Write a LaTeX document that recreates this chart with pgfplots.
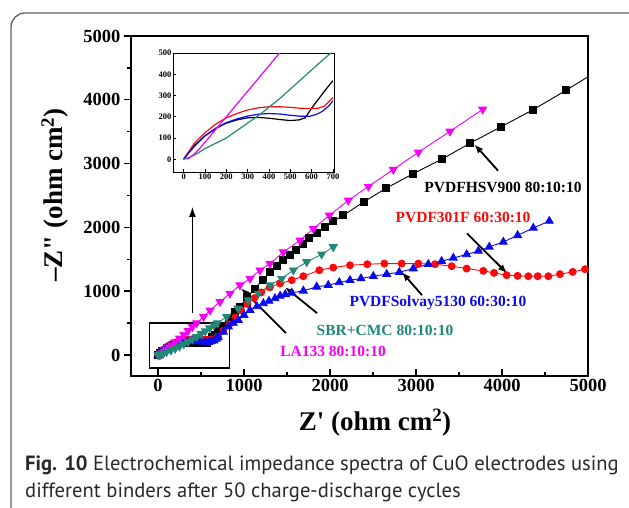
\documentclass[border=0pt]{standalone}
\usepackage{pgfplots}
\pgfplotsset{compat=1.18}
\usepackage{fontspec}
\setmainfont{Liberation Serif}
\newfontfamily\capfont{PT Sans}
\usetikzlibrary{arrows.meta}
\definecolor{tealc}{RGB}{35,135,120}
\definecolor{magc}{RGB}{245,0,245}
\definecolor{redc}{RGB}{250,10,10}
\definecolor{bluec}{RGB}{10,10,235}
\definecolor{capgray}{RGB}{40,40,40}
\definecolor{framegray}{RGB}{95,95,95}
\begin{document}
\begin{tikzpicture}
\useasboundingbox (0,0) rectangle (629pt,508pt);
\draw[framegray, line width=1.3pt, rounded corners=14pt] (11pt,-40pt) rectangle (660pt,495pt);
\begin{axis}[at={(131pt,132pt)}, anchor=south west, scale only axis,
  width=457pt, height=340pt,
  xmin=-314, xmax=5000, ymin=-330, ymax=5000,
  xtick={0,1000,...,5000}, ytick={0,1000,...,5000},
  minor xtick={500,1500,...,4500}, minor ytick={500,1500,...,4500},
  xtick pos=bottom, ytick pos=left,
  xtick align=inside, ytick align=outside,
  major tick length=7pt, minor tick length=4pt,
  axis line style={line width=1.6pt},
  every tick/.style={line width=1.4pt, black},
  scaled ticks=false,
  /pgf/number format/1000 sep={},
  /pgf/number format/assume math mode=true,
  ticklabel style={font=\bfseries\fontsize{18.5}{18.5}\selectfont},
  clip=false]
% black PVDFHSV900
\addplot[black, line width=0.9pt, mark=square*, mark size=3.5pt, mark options={solid}] coordinates {
(0,0) (20,30) (50,65) (100,110) (150,145) (200,170) (250,185) (300,195) (350,197) (400,193) (450,187) (500,182) (540,185) (570,195) (600,240) (630,280) (660,320) (700,370) (760,460) (830,560) (900,670) (953,755) (1039,911) (1128,1042) (1220,1180) (1300,1300) (1380,1400) (1455,1484) (1530,1570) (1609,1651) (1680,1740) (1760,1830) (1845,1920) (1936,2005) (2040,2095) (2155,2188) (2389,2396) (2655,2615) (2964,2839) (3300,3068) (3627,3318) (3991,3578) (4355,3839) (4748,4151)};
\addplot[black, line width=0.9pt] coordinates {(4748,4151) (5000,4360)};
% red PVDF301F
\addplot[redc, line width=0.9pt, mark=*, mark size=3.5pt] coordinates {
(0,0) (20,30) (50,75) (100,125) (150,165) (200,195) (250,215) (300,232) (350,242) (400,247) (450,247) (500,244) (550,240) (600,238) (630,240) (660,250) (700,290) (760,380) (830,480) (900,590) (965,700) (1040,800) (1120,890) (1200,980) (1300,1060) (1419,1120) (1555,1172) (1690,1234) (1876,1328) (2038,1370) (2233,1406) (2434,1422) (2632,1432) (2833,1432) (3027,1432) (3221,1422) (3415,1391) (3589,1354) (3783,1318) (3907,1286) (4054,1250) (4182,1240) (4306,1234) (4415,1234) (4539,1234) (4674,1266) (4822,1302) (4965,1344)};
% blue PVDFSolvay5130
\addplot[bluec, line width=0.9pt, mark=triangle*, mark size=4.5pt] coordinates {
(0,0) (20,25) (50,60) (100,110) (150,145) (200,172) (250,190) (300,203) (350,212) (400,215) (450,213) (500,207) (550,202) (590,202) (620,210) (650,225) (680,250) (700,275) (760,360) (818,443) (876,500) (934,547) (1000,625) (1070,703) (1150,760) (1225,807) (1290,845) (1360,885) (1420,925) (1480,950) (1555,974) (1690,1005) (1845,1068) (1980,1094) (2108,1136) (2233,1172) (2360,1198) (2504,1234) (2659,1266) (2806,1297) (2969,1354) (3143,1422) (3298,1470) (3434,1520) (3589,1575) (3725,1630) (3852,1693) (4015,1771) (4182,1875) (4364,1990) (4550,2099)};
% magenta LA133
\addplot[magc, line width=0.9pt, mark=triangle*, mark size=4.5pt, mark options={rotate=180}] coordinates {
(15,0) (30,8) (50,25) (75,50) (100,80) (130,115) (160,150) (200,200) (250,260) (300,320) (350,380) (400,440) (450,500) (530,600) (605,700) (721,833) (837,964) (953,1094) (1070,1198) (1186,1328) (1302,1432) (1457,1614) (1651,1797) (1806,1979) (1992,2188) (2213,2422) (2446,2641) (2736,2906) (3027,3177) (3395,3505) (3775,3850)};
% teal SBR+CMC
\addplot[tealc, line width=0.9pt, mark=triangle*, mark size=4.5pt, mark options={rotate=180}] coordinates {
(0,0) (30,10) (60,25) (100,50) (150,75) (200,100) (250,135) (300,170) (350,205) (400,245) (450,285) (500,330) (550,375) (600,420) (650,465) (690,500) (798,599) (930,730) (1050,859) (1167,964) (1302,1094) (1438,1198) (1574,1328) (1729,1458) (1903,1578) (2038,1693)};
% zoom rectangle and arrow
\draw[line width=1.6pt] (axis cs:-100,-200) rectangle (axis cs:830,500);
\draw[line width=1.3pt, -{Latex[length=10pt,width=7pt]}] (axis cs:400,650) -- (axis cs:400,2320);
% annotations
\tikzset{lab/.style={font=\bfseries\fontsize{15.5}{15.5}\selectfont}, arr/.style={black, line width=1.8pt, -{Latex[length=9pt,width=7pt]}}}
\node[lab, black] at (axis cs:4012,2625) {PVDFHSV900 80:10:10};
\draw[arr] (axis cs:3953,2890) -- (axis cs:3680,3300);
\node[lab, redc] at (axis cs:3547,2156) {PVDF301F 60:30:10};
\draw[arr] (axis cs:3593,1906) -- (axis cs:4058,1281);
\node[lab, bluec] at (axis cs:3256,812) {PVDFSolvay5130 60:30:10};
\draw[arr] (axis cs:3070,937) -- (axis cs:2837,1297);
\node[lab, tealc] at (axis cs:2640,390) {SBR+CMC 80:10:10};
\draw[arr] (axis cs:1849,656) -- (axis cs:1477,1062);
\node[lab, magc] at (axis cs:2035,47) {LA133 80:10:10};
\draw[arr] (axis cs:1488,344) -- (axis cs:965,1047);
\end{axis}
% inset
\begin{axis}[at={(173pt,336pt)}, anchor=south west, scale only axis,
  width=161pt, height=119pt,
  xmin=-50, xmax=705, ymin=-60, ymax=500,
  xtick={0,100,...,700}, ytick={0,100,...,500},
  xtick pos=bottom, ytick pos=left,
  tick align=inside, major tick length=3pt,
  axis line style={line width=0.9pt},
  every tick/.style={line width=0.7pt, black},
  scaled ticks=false,
  /pgf/number format/1000 sep={},
  /pgf/number format/assume math mode=true,
  ticklabel style={font=\bfseries\fontsize{8.5}{8.5}\selectfont, inner sep=1.5pt}]
\addplot[black, line width=1.2pt] coordinates {(0,0) (20,30) (50,65) (100,110) (150,145) (200,170) (250,185) (300,195) (350,197) (400,193) (450,187) (500,182) (540,185) (570,195) (600,240) (630,280) (660,320) (700,370)};
\addplot[redc, line width=1.2pt] coordinates {(0,0) (20,30) (50,75) (100,125) (150,165) (200,195) (250,215) (300,232) (350,242) (400,247) (450,247) (500,244) (550,240) (600,238) (630,240) (660,250) (700,290)};
\addplot[bluec, line width=1.2pt] coordinates {(0,0) (20,25) (50,60) (100,110) (150,145) (200,172) (250,190) (300,203) (350,212) (400,215) (450,213) (500,207) (550,202) (590,202) (620,210) (650,225) (680,250) (700,275)};
\addplot[tealc, line width=1.2pt] coordinates {(0,0) (30,10) (60,25) (100,50) (150,75) (200,100) (250,135) (300,170) (350,205) (400,245) (450,285) (500,330) (550,375) (600,420) (650,465) (690,500)};
\addplot[magc, line width=1.2pt] coordinates {(15,0) (30,8) (50,25) (75,50) (100,80) (150,140) (200,200) (250,260) (300,320) (350,380) (400,440) (450,500)};
\end{axis}
\node[font=\bfseries\fontsize{27}{27}\selectfont] at (375pt,85pt) {Z\textquotesingle\ (ohm cm\textsuperscript{2})};
\node[font=\bfseries\fontsize{27}{27}\selectfont, rotate=90] at (55pt,313pt) {\textendash Z\textquotedbl\ (ohm cm\textsuperscript{2})};
\node[anchor=base west, inner sep=0pt, font=\capfont\fontsize{20.6}{20.6}\selectfont, text=capgray] at (25pt,37pt) {\textbf{Fig. 10} Electrochemical impedance spectra of CuO electrodes using};
\node[anchor=base west, inner sep=0pt, font=\capfont\fontsize{20.6}{20.6}\selectfont, text=capgray] at (25pt,10pt) {different binders after 50 charge-discharge cycles};
\end{tikzpicture}
\end{document}
